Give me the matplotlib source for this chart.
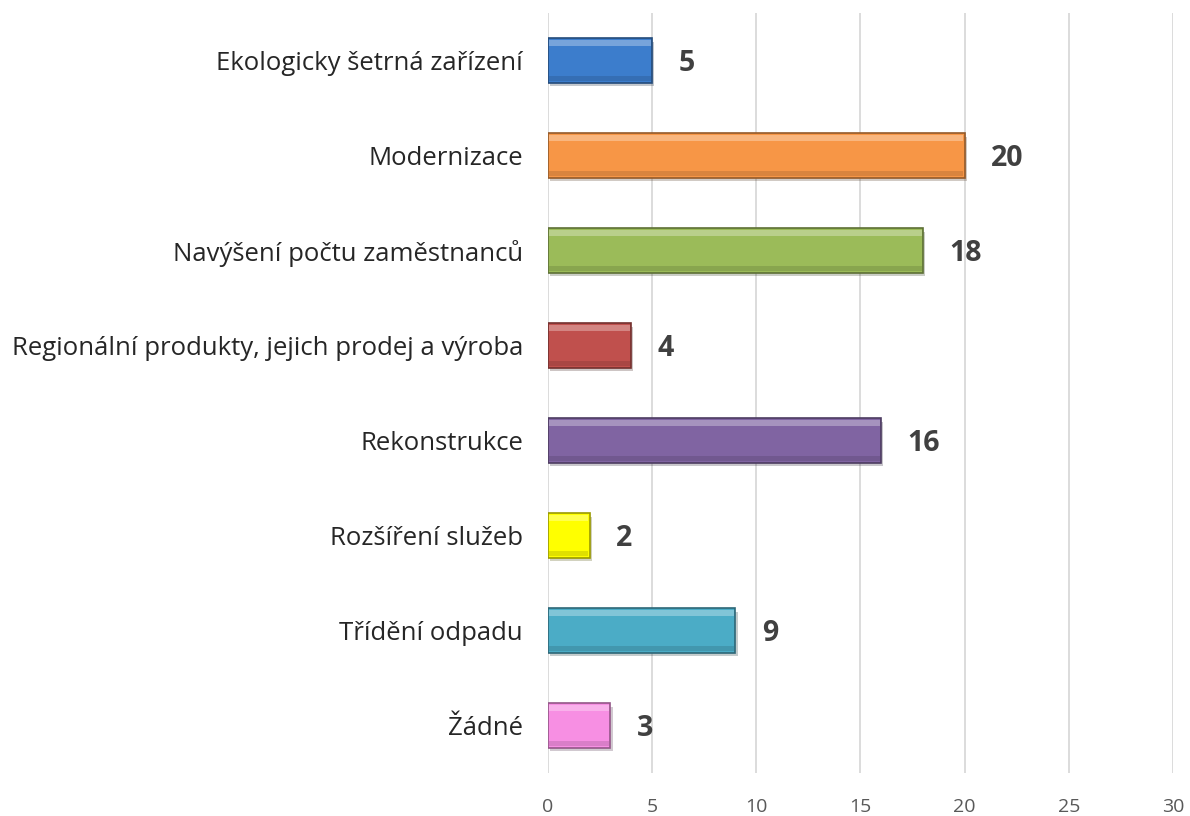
import matplotlib
matplotlib.use('Agg')
import matplotlib.pyplot as plt
import matplotlib.patheffects as pe
from matplotlib.colors import to_rgb
import numpy as np

categories = ['Ekologicky šetrná zařízení', 'Modernizace', 'Navýšení počtu zaměstnanců',
              'Regionální produkty, jejich prodej a výroba', 'Rekonstrukce',
              'Rozšíření služeb', 'Třídění odpadu', 'Žádné']
values = [5, 20, 18, 4, 16, 2, 9, 3]
colors = ['#3c7dcc', '#f79646', '#9bbb59', '#c0504d', '#8064a2', '#ffff00', '#4bacc6', '#f78fe3']
x_ticks = [0, 5, 10, 15, 20, 25, 30]


def shade(c, f):
    r, g, b = to_rgb(c)
    if f < 1:
        return (r * f, g * f, b * f)
    f = f - 1
    return (r + (1 - r) * f, g + (1 - g) * f, b + (1 - b) * f)


fig = plt.figure(figsize=(11.9, 8.16), dpi=100)
ax = fig.add_axes([0.4605, 0.0527, 0.5252, 0.9314])

ypos = np.arange(len(categories))
h = 0.47
bars = ax.barh(ypos, values, height=h, color=colors, zorder=3,
               path_effects=[pe.SimplePatchShadow(offset=(1.5, -2.5), alpha=0.25), pe.Normal()])
for b, c in zip(bars, colors):
    b.set_edgecolor(shade(c, 0.6))
    b.set_linewidth(1.2)
    x0, y0 = b.get_x(), b.get_y()
    w, hh = b.get_width(), b.get_height()
    # y axis is inverted: y0 is the visual top of the bar
    ax.add_patch(plt.Rectangle((x0 + 0.06, y0 + 0.02), w - 0.12, hh * 0.14,
                               facecolor=shade(c, 1.3), edgecolor='none', zorder=4))
    ax.add_patch(plt.Rectangle((x0 + 0.06, y0 + hh * 0.84), w - 0.12, hh * 0.13,
                               facecolor=shade(c, 0.88), edgecolor='none', zorder=4))

for v, y in zip(values, ypos):
    ax.annotate(str(v), (v, y), xytext=(19, -2), textcoords='offset points',
                ha='left', va='center', fontsize=20.5, fontweight='bold',
                color='#404040', family='Open Sans')

ax.set_xlim(0, 30)
ax.set_ylim(len(categories) - 0.5, -0.5)
ax.set_xticks(x_ticks)
ax.set_yticks(ypos)
ax.set_yticklabels(categories, fontsize=18.5, color='#262626', family='Open Sans')
ax.tick_params(axis='x', labelsize=14, labelcolor='#595959', length=0, pad=18)
ax.tick_params(axis='y', length=0, pad=18)
for lab in ax.get_xticklabels():
    lab.set_family('Open Sans')
ax.grid(axis='x', color='#d9d9d9', linewidth=1.3, zorder=0)
for s in ax.spines.values():
    s.set_visible(False)

fig.savefig('out.png', dpi=100)
